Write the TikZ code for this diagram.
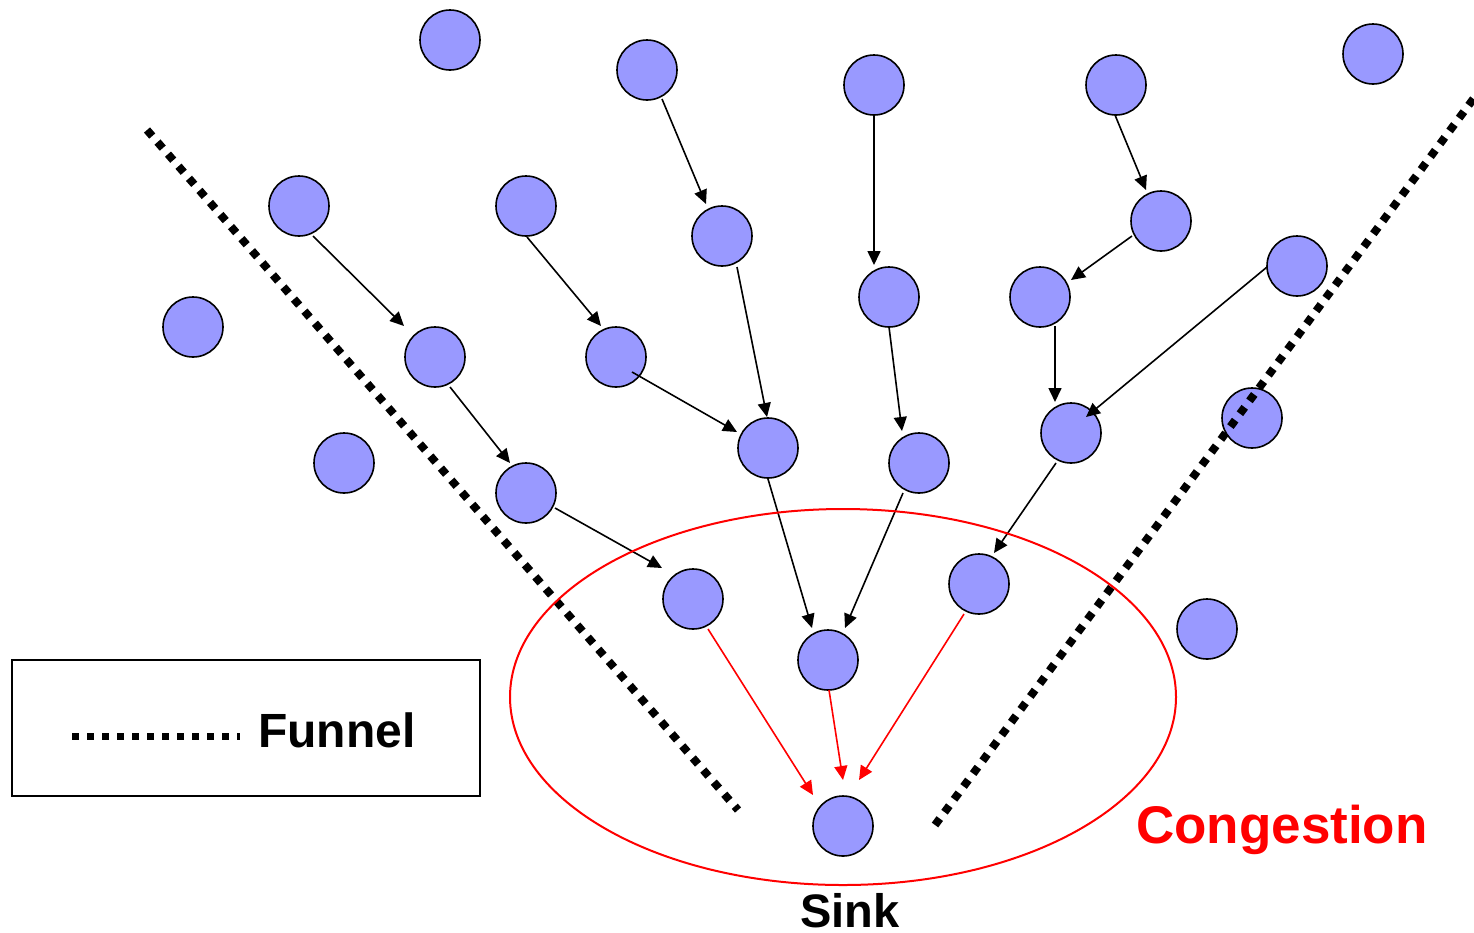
\documentclass[tikz,border=0pt]{standalone}
\usepackage{fontspec}
\setmainfont{Liberation Sans}
\usetikzlibrary{arrows.meta}
\definecolor{nodeblue}{HTML}{9999FF}
\definecolor{cred}{HTML}{FF0000}
\begin{document}
\begin{tikzpicture}[x=1pt,y=-1pt,
  sensor/.style={circle,draw=black,fill=nodeblue,line width=1.6pt,minimum size=60pt,inner sep=0pt},
  flow/.style={line width=1.6pt,-{Triangle[length=14pt,width=13pt]}},
  redflow/.style={flow,draw=cred,color=cred},
  funnelline/.style={line width=8pt,dash pattern=on 8pt off 8pt},
  lbl/.style={font=\bfseries,inner sep=0pt}]
\useasboundingbox (0,0) rectangle (1474,932);
% nodes
\node[sensor] (n1) at (450,40) {};
\node[sensor] (n2) at (647,70) {};
\node[sensor] (n3) at (874,85) {};
\node[sensor] (n4) at (1116,85) {};
\node[sensor] (n5) at (1373,54) {};
\node[sensor] (n6) at (299,206) {};
\node[sensor] (n7) at (526,206) {};
\node[sensor] (n8) at (722,236) {};
\node[sensor] (n9) at (1161,221) {};
\node[sensor] (n10) at (193,327) {};
\node[sensor] (n11) at (889,297) {};
\node[sensor] (n12) at (1040,297) {};
\node[sensor] (n13) at (1297,266) {};
\node[sensor] (n14) at (435,357) {};
\node[sensor] (n15) at (616,357) {};
\node[sensor] (n16) at (768,448) {};
\node[sensor] (n17) at (919,463) {};
\node[sensor] (n18) at (1071,433) {};
\node[sensor] (n19) at (1252,418) {};
\node[sensor] (n20) at (344,463) {};
\node[sensor] (n21) at (526,493) {};
\node[sensor] (n22) at (693,599) {};
\node[sensor] (n23) at (979,584) {};
\node[sensor] (n24) at (1207,629) {};
\node[sensor] (n25) at (828,660) {};
\node[sensor] (sink) at (843,826) {};
% black connectors
\draw[flow] ([shift={(15,29)}]n2.center) -- ([shift={(-16,-32)}]n8.center);
\draw[flow] ([shift={(0,30)}]n3.center) -- ([shift={(-15,-32)}]n11.center);
\draw[flow] ([shift={(-1,30)}]n4.center) -- ([shift={(-15,-31)}]n9.center);
\draw[flow] ([shift={(-29,15)}]n9.center) -- ([shift={(31,-17)}]n12.center);
\draw[flow] ([shift={(15,29)}]n12.center) -- ([shift={(-16,-31)}]n18.center);
\draw[flow] ([shift={(-30,1)}]n13.center) -- ([shift={(15,-16)}]n18.center);
\draw[flow] ([shift={(14,30)}]n6.center) -- ([shift={(-31,-31)}]n14.center);
\draw[flow] ([shift={(15,30)}]n14.center) -- ([shift={(-16,-30)}]n21.center);
\draw[flow] ([shift={(1,31)}]n7.center) -- ([shift={(-15,-31)}]n15.center);
\draw[flow] ([shift={(16,15)}]n15.center) -- ([shift={(-31,-16)}]n16.center);
\draw[flow] ([shift={(15,31)}]n8.center) -- ([shift={(-1,-31)}]n16.center);
\draw[flow] ([shift={(0,30)}]n11.center) -- ([shift={(-17,-32)}]n17.center);
\draw[flow] ([shift={(29,15)}]n21.center) -- ([shift={(-31,-31)}]n22.center);
\draw[flow] ([shift={(0,31)}]n16.center) -- ([shift={(-16,-32)}]n25.center);
\draw[flow] ([shift={(-16,30)}]n17.center) -- ([shift={(17,-32)}]n25.center);
\draw[flow] ([shift={(-15,30)}]n18.center) -- ([shift={(15,-31)}]n23.center);
% red connectors
\draw[redflow] ([shift={(15,30)}]n22.center) -- ([shift={(-30,-31)}]sink.center);
\draw[redflow] ([shift={(1,30)}]n25.center) -- ([shift={(0,-46)}]sink.center);
\draw[redflow] ([shift={(-15,30)}]n23.center) -- ([shift={(16,-46)}]sink.center);
% funnel
\coordinate (fl1) at (147,130);
\coordinate (fl2) at (738,810);
\coordinate (fr1) at (935,825);
\coordinate (fr2) at (1474,98);
\draw[funnelline] (fl1) -- (fl2);
\draw[funnelline] (fr1) -- (fr2);
% congestion ellipse
\draw[cred,line width=2pt] (843,697) ellipse [x radius=333, y radius=188];
\node[lbl,text=cred,anchor=base west,font=\bfseries\fontsize{53}{60}\selectfont] (cong) at (1136,843) {Congestion};
\node[lbl,anchor=base,font=\bfseries\fontsize{47}{54}\selectfont] (sinklbl) at (850,927) {Sink};
% legend
\node[draw=black,line width=2pt,minimum width=468pt,minimum height=136pt,inner sep=0pt] (legend) at (246,728) {};
\coordinate (ld1) at (72,736);
\coordinate (ld2) at (240,736);
\draw[line width=7pt,dash pattern=on 7pt off 8pt] (ld1) -- (ld2);
\node[lbl,anchor=base west,font=\bfseries\fontsize{48}{54}\selectfont] (funnellbl) at (258,747) {Funnel};
\end{tikzpicture}
\end{document}
